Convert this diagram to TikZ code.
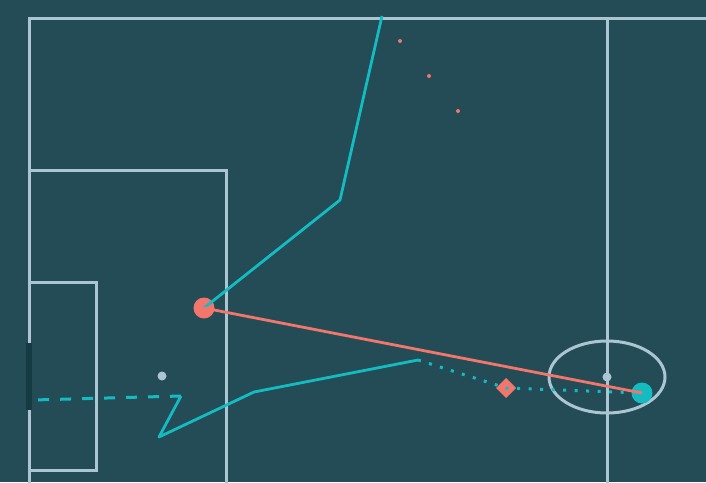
\documentclass[tikz,border=0pt]{standalone}
\usetikzlibrary{shapes.geometric}
\definecolor{bg}{HTML}{234C56}
\definecolor{pline}{HTML}{ABC5D2}
\definecolor{cy}{HTML}{14BCC2}
\definecolor{rd}{HTML}{F2766B}
\definecolor{goalc}{HTML}{153A42}
\tikzset{
  pitch/.style={draw=pline, line width=3pt},
  run/.style={draw=cy, line width=2.8pt, line join=round},
  pass/.style={draw=rd, line width=2.8pt},
  dotpath/.style={draw=cy, line width=3pt, dash pattern=on 3pt off 8.5pt},
  dashpath/.style={draw=cy, line width=3pt, dash pattern=on 11pt off 11pt},
}
\begin{document}
\begin{tikzpicture}[x=1pt,y=-1pt]
\fill[bg] (0,0) rectangle (706,482);
\useasboundingbox (0,0) rectangle (706,482);
% pitch
\draw[pitch] (29,490) -- (29,18) -- (710,18);
\draw[pitch] (607,18) -- (607,490);
\draw[pitch] (29,170) -- (226,170) -- (226,490);
\draw[pitch] (29,282) -- (96,282) -- (96,470) -- (29,470);
\node[pitch, ellipse, minimum width=116pt, minimum height=72pt, inner sep=0pt] (cc) at (607,377) {};
\fill[goalc] (26,343) rectangle (32,410);
\node[circle, fill=pline, inner sep=0pt, minimum size=9pt] (cs) at (607,377) {};
\node[circle, fill=pline, inner sep=0pt, minimum size=9pt] (ps) at (162,376) {};
% red dots
\node[circle, fill=rd, inner sep=0pt, minimum size=4pt] (d1) at (400,41) {};
\node[circle, fill=rd, inner sep=0pt, minimum size=4pt] (d2) at (429,76) {};
\node[circle, fill=rd, inner sep=0pt, minimum size=4pt] (d3) at (458,111) {};
% players / ball
\node[circle, fill=rd, inner sep=0pt, minimum size=21pt] (p1) at (204,308) {};
\node[circle, fill=cy, inner sep=0pt, minimum size=21pt] (ball) at (642,393) {};
\coordinate (a0) at (382,16);
\coordinate (a1) at (340,200);
\coordinate (b0) at (418,360);
\coordinate (b1) at (254,392);
\coordinate (b2) at (159,437);
\coordinate (b3) at (181,396);
\coordinate (b4) at (33,400);
\coordinate (dm) at (506,388);
\fill[rd] ([yshift=-10pt]dm) -- ([xshift=10pt]dm) -- ([yshift=10pt]dm) -- ([xshift=-10pt]dm) -- cycle;
% paths
\draw[dotpath] (b0) -- (dm) -- (ball.center);
\draw[run] (a0) -- (a1) -- (p1.center);
\draw[run] (b0) -- (b1) -- (b2) -- (b3);
\draw[dashpath] (b3) -- (b4);
\draw[pass] (p1.center) -- (ball.center);
\end{tikzpicture}
\end{document}
